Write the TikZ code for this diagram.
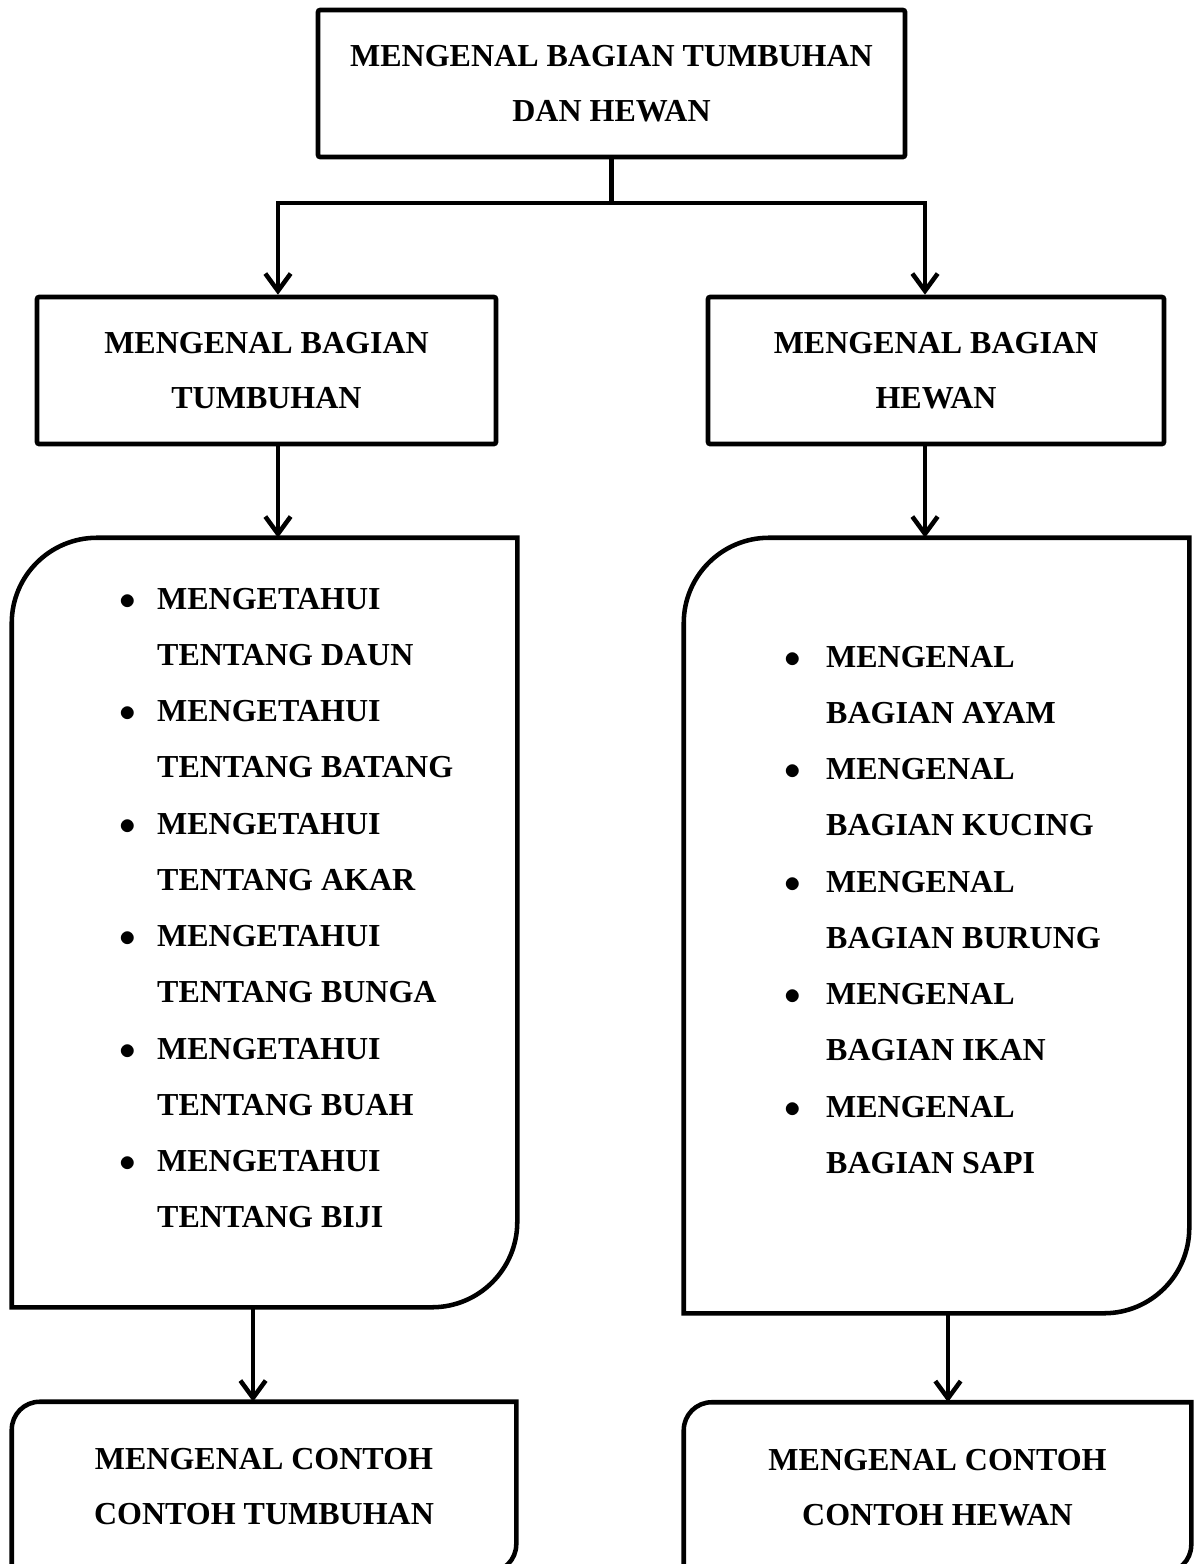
\documentclass[tikz,border=0pt]{standalone}
\usepackage{fontspec}
\setmainfont{Liberation Serif}
\usetikzlibrary{arrows.meta}

% outline with two rounded corners (top left, bottom right) around a node
\newcommand\leafbox[2]{%
  \draw[link] (#1.north east) -- ([xshift=#2]#1.north west)
    arc[start angle=90,end angle=180,radius=#2] -- (#1.south west)
    -- ([xshift=-#2]#1.south east)
    arc[start angle=270,end angle=360,radius=#2] -- cycle;}
\newcommand\dotmark{$\bullet$}

\begin{document}
\begin{tikzpicture}[x=0.75pt,y=-0.75pt,
  every node/.style={font=\bfseries\fontsize{24}{41.25}\selectfont, inner sep=0pt},
  box/.style={draw, line width=3.4pt, rounded corners=1.5pt, align=center},
  frame/.style={align=center},
  itemlist/.style={font=\bfseries\fontsize{24}{42.2}\selectfont, anchor=base west},
  link/.style={line width=3.4pt},
  arr/.style={link, -{Straight Barb[length=13pt,width=19pt,line width=3.4pt]}}
]
\useasboundingbox (0,0) rectangle (1198,1564);
\clip (0,0) rectangle (1198,1564);

% title and the two branches
\node[box, minimum width=440.25pt, minimum height=110.25pt] (root) at (611.5,83.5)
  {MENGENAL BAGIAN TUMBUHAN\\DAN HEWAN};
\node[box, minimum width=344.25pt, minimum height=110.25pt] (plant) at (266.5,370.5)
  {MENGENAL BAGIAN\\TUMBUHAN};
\node[box, minimum width=342pt, minimum height=110.25pt] (animal) at (936,370.5)
  {MENGENAL BAGIAN\\HEWAN};

% topic boxes
\node[frame, minimum width=378.75pt, minimum height=576.75pt] (plantlist) at (264.5,922.5) {};
\node[frame, minimum width=378.75pt, minimum height=581.25pt] (animallist) at (936.5,925.5) {};
\leafbox{plantlist}{64pt}
\leafbox{animallist}{64pt}

\node[itemlist] (plantitems) at (119,609) {%
  \begin{tabular}[t]{@{}l@{\hspace{16pt}}l@{}}
  \dotmark & MENGETAHUI\\ & TENTANG DAUN\\
  \dotmark & MENGETAHUI\\ & TENTANG BATANG\\
  \dotmark & MENGETAHUI\\ & TENTANG AKAR\\
  \dotmark & MENGETAHUI\\ & TENTANG BUNGA\\
  \dotmark & MENGETAHUI\\ & TENTANG BUAH\\
  \dotmark & MENGETAHUI\\ & TENTANG BIJI
  \end{tabular}};
\node[itemlist] (animalitems) at (784,667) {%
  \begin{tabular}[t]{@{}l@{\hspace{19pt}}l@{}}
  \dotmark & MENGENAL\\ & BAGIAN AYAM\\
  \dotmark & MENGENAL\\ & BAGIAN KUCING\\
  \dotmark & MENGENAL\\ & BAGIAN BURUNG\\
  \dotmark & MENGENAL\\ & BAGIAN IKAN\\
  \dotmark & MENGENAL\\ & BAGIAN SAPI
  \end{tabular}};

% example boxes
\node[frame, minimum width=378pt, minimum height=127.5pt] (plantex) at (264,1487)
  {MENGENAL CONTOH\\CONTOH TUMBUHAN};
\node[frame, minimum width=380.25pt, minimum height=127.5pt] (animalex) at (937.5,1487.5)
  {MENGENAL CONTOH\\CONTOH HEWAN};
\leafbox{plantex}{21pt}
\leafbox{animalex}{21pt}

% connectors
\coordinate (fork) at (611.5,203);
\draw[link] (root.south) -- (fork);
\draw[arr] (fork) -| ([xshift=8.6pt]plant.north);
\draw[arr] (fork) -| ([xshift=-8.25pt]animal.north);
\draw[arr] ([xshift=8.6pt]plant.south) -- ([xshift=8.6pt]plant.south |- plantlist.north);
\draw[arr] ([xshift=-8.25pt]animal.south) -- ([xshift=-8.25pt]animal.south |- animallist.north);
\draw[arr] ([xshift=-8.6pt]plantlist.south) -- ([xshift=-8.6pt]plantlist.south |- plantex.north);
\draw[arr] ([xshift=8.6pt]animallist.south) -- ([xshift=8.6pt]animallist.south |- animalex.north);
\end{tikzpicture}
\end{document}
